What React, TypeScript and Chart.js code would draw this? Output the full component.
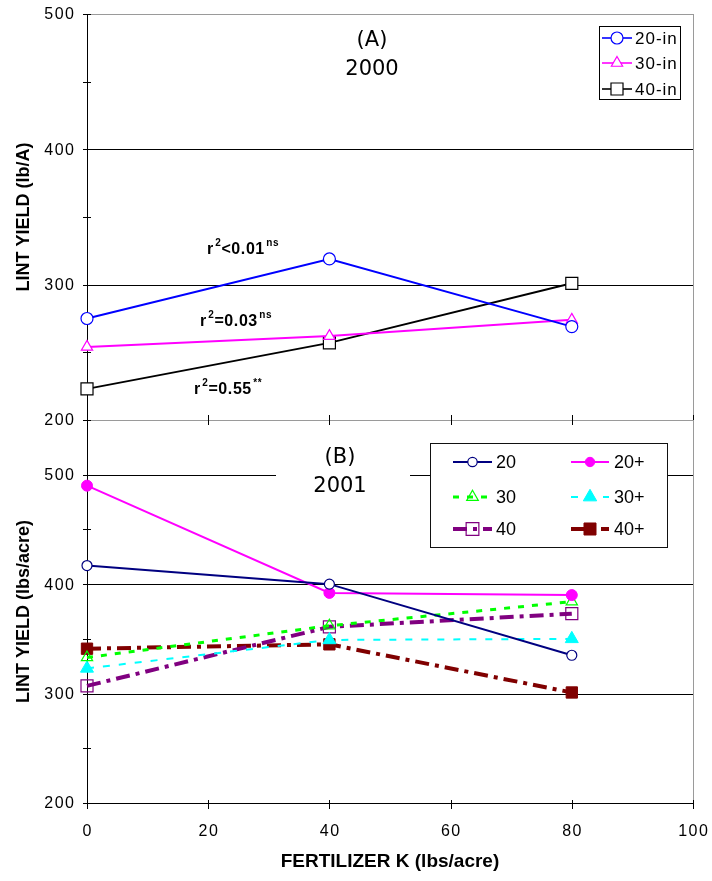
import React, { useEffect, useRef } from 'react';
import { Chart, registerables } from 'chart.js';

Chart.register(...registerables);

// ---------------- data ----------------
const K_RATES = [0, 40, 80];
const X_TICKS = [0, 20, 40, 60, 80, 100];
const A_Y_LABELS = [500, 400, 300, 200];
const B_Y_LABELS = [500, 400, 300, 200];

const A_NAMES = ['20-in', '30-in', '40-in'];
const A_20IN = [275, 319, 269];
const A_30IN = [254, 262, 274];
const A_40IN = [223, 257, 301];

const B_NAMES = ['20', '20+', '30', '30+', '40', '40+'];
const B_20 = [417, 400, 335];
const B_20P = [490, 392, 390];
const B_30 = [333, 362, 384];
const B_30P = [323, 349, 350];
const B_40 = [307, 361, 373];
const B_40P = [341, 345, 301];

const A_R2 = [
  ['r', '2', '<0.01', 'ns'],
  ['r', '2', '=0.03', 'ns'],
  ['r', '2', '=0.55', '**'],
];

// ---------------- styles / layout ----------------
const W = 712;
const H = 881;
const PLOT_LEFT = 87;
const PLOT_RIGHT = 693;
const A_TOP = 14;
const MID = 420;
const B_BOTTOM = 803;
const GREY = '#9a9a9a';
const SANS = '"Liberation Sans", Arial, sans-serif';
const DEJA = '"DejaVu Sans", sans-serif';

const A_STYLES = [
  { color: '#0000FF', width: 2, dash: [], marker: 'circle', r: 6, fill: '#FFFFFF', pw: 1.2 },
  { color: '#FF00FF', width: 2, dash: [], marker: 'triangle', r: 6.5, fill: '#FFFFFF', pw: 1.2 },
  { color: '#000000', width: 2, dash: [], marker: 'rect', r: 8.5, fill: '#FFFFFF', pw: 1.2 },
];
const B_STYLES = [
  { color: '#000080', width: 2, dash: [], marker: 'circle', r: 5, fill: '#FFFFFF', pw: 1.2 },
  { color: '#FF00FF', width: 2, dash: [], marker: 'circle', r: 5.5, fill: '#FF00FF', pw: 1 },
  { color: '#00FF00', width: 3, dash: [6, 8], marker: 'triangle', r: 6.5, fill: 'rgba(0,0,0,0)', pw: 1.2 },
  { color: '#00FFFF', width: 2, dash: [7, 9], marker: 'triangle', r: 7.5, fill: '#00FFFF', pw: 1 },
  { color: '#800080', width: 4, dash: [14, 6, 4, 6], marker: 'rect', r: 8.5, fill: 'rgba(0,0,0,0)', pw: 1.2 },
  { color: '#800000', width: 4, dash: [14, 6, 4, 6], marker: 'rect', r: 8, fill: '#800000', pw: 1 },
];

// ---------------- drawing helpers ----------------
const al = (v: number) => Math.round(v) + 0.5;

function hline(ctx: any, x1: number, x2: number, y: number, color: string, w = 1) {
  ctx.save();
  ctx.strokeStyle = color;
  ctx.lineWidth = w;
  ctx.setLineDash([]);
  ctx.beginPath();
  ctx.moveTo(x1, al(y));
  ctx.lineTo(x2, al(y));
  ctx.stroke();
  ctx.restore();
}
function vline(ctx: any, x: number, y1: number, y2: number, color: string, w = 1) {
  ctx.save();
  ctx.strokeStyle = color;
  ctx.lineWidth = w;
  ctx.setLineDash([]);
  ctx.beginPath();
  ctx.moveTo(al(x), y1);
  ctx.lineTo(al(x), y2);
  ctx.stroke();
  ctx.restore();
}
function drawMarker(ctx: any, style: string, x: number, y: number, r: number, fill: string, stroke: string, lw: number) {
  ctx.save();
  ctx.setLineDash([]);
  ctx.beginPath();
  if (style === 'circle') ctx.arc(x, y, r, 0, Math.PI * 2);
  else if (style === 'triangle') {
    ctx.moveTo(x, y - r);
    ctx.lineTo(x + 0.866 * r, y + 0.5 * r);
    ctx.lineTo(x - 0.866 * r, y + 0.5 * r);
    ctx.closePath();
  } else {
    const s = r / Math.SQRT2;
    ctx.rect(x - s, y - s, 2 * s, 2 * s);
  }
  if (fill) {
    ctx.fillStyle = fill;
    ctx.fill();
  }
  ctx.strokeStyle = stroke;
  ctx.lineWidth = lw;
  ctx.stroke();
  ctx.restore();
}
function text(ctx: any, s: string, x: number, y: number, font: string, align = 'left', baseline = 'middle', spacing = '0px', color = '#000') {
  ctx.save();
  ctx.font = font;
  ctx.letterSpacing = spacing;
  ctx.textAlign = align;
  ctx.textBaseline = baseline;
  ctx.fillStyle = color;
  ctx.fillText(s, x, y);
  ctx.restore();
}
function vtext(ctx: any, s: string, x: number, y: number, font: string) {
  ctx.save();
  ctx.translate(x, y);
  ctx.rotate(-Math.PI / 2);
  ctx.font = font;
  ctx.textAlign = 'center';
  ctx.textBaseline = 'middle';
  ctx.fillStyle = '#000';
  ctx.fillText(s, 0, 0);
  ctx.restore();
}
function supText(ctx: any, x: number, base: number, parts: string[]) {
  ctx.save();
  ctx.fillStyle = '#000';
  ctx.textBaseline = 'alphabetic';
  ctx.textAlign = 'left';
  let cx = x;
  parts.forEach((p, i) => {
    const sup = i % 2 === 1;
    ctx.font = sup ? `bold 10px ${SANS}` : `bold 16px ${SANS}`;
    ctx.letterSpacing = sup ? '0.5px' : '0.6px';
    if (sup) cx += 1.5;
    ctx.fillText(p, cx, sup ? base - 8.5 : base);
    cx += ctx.measureText(p).width;
  });
  ctx.restore();
}
function legendEntry(ctx: any, x1: number, x2: number, y: number, st: any, mr: number) {
  ctx.save();
  ctx.strokeStyle = st.color;
  ctx.lineWidth = st.width;
  ctx.setLineDash(st.dash);
  ctx.beginPath();
  ctx.moveTo(x1, y);
  ctx.lineTo(x2, y);
  ctx.stroke();
  ctx.restore();
  drawMarker(ctx, st.marker, (x1 + x2) / 2, y, mr, st.fill, st.color, st.pw);
}

// ---------------- plugins ----------------
const panelAPlugin = {
  id: 'panelA',
  beforeDatasetsDraw(chart: any) {
    const ctx = chart.ctx;
    const { x, y } = chart.scales;
    const left = x.getPixelForValue(0);
    const right = x.getPixelForValue(100);
    const top = y.getPixelForValue(500);
    const bottom = y.getPixelForValue(200);
    [400, 300].forEach((v) => hline(ctx, left, right, y.getPixelForValue(v), '#000'));
    hline(ctx, left, right, top, GREY);
    hline(ctx, left, right, bottom, GREY);
    vline(ctx, right, top, bottom, GREY);
    vline(ctx, left, top, bottom + 2, '#000');
    y.ticks.forEach((t: any) => hline(ctx, left - 4, left + 4, y.getPixelForValue(t.value), '#000'));
    X_TICKS.forEach((v) => vline(ctx, x.getPixelForValue(v), bottom - 5, bottom + 5, '#000'));
  },
  afterDatasetsDraw(chart: any) {
    const ctx = chart.ctx;
    const { x, y } = chart.scales;
    const left = x.getPixelForValue(0);
    A_Y_LABELS.forEach((v) =>
      text(ctx, String(v), left - 11.5, y.getPixelForValue(v) + 1, `16px ${SANS}`, 'right', 'middle', '1.5px')
    );
    vtext(ctx, 'LINT YIELD (lb/A)', 24, (y.getPixelForValue(500) + y.getPixelForValue(200)) / 2, `bold 18px ${SANS}`);
    text(ctx, '(A)', 372, 41, `21px ${DEJA}`, 'center');
    text(ctx, '2000', 372, 70, `21px ${DEJA}`, 'center');
    // r² annotations
    supText(ctx, 207, 254, A_R2[0]);
    supText(ctx, 200, 326, A_R2[1]);
    supText(ctx, 194, 394, A_R2[2]);
    // legend
    ctx.save();
    ctx.fillStyle = '#fff';
    ctx.fillRect(599, 26, 81, 73);
    ctx.strokeStyle = '#000';
    ctx.lineWidth = 1;
    ctx.strokeRect(599.5, 26.5, 81, 73);
    ctx.restore();
    const rows = [38, 63, 89];
    A_NAMES.forEach((n, i) => {
      legendEntry(ctx, 602, 632, rows[i], { ...A_STYLES[i], width: 1.6 }, A_STYLES[i].r);
      text(ctx, n, 635, rows[i] + 1, `17px ${SANS}`, 'left', 'middle', '1px');
    });
  },
};

const panelBPlugin = {
  id: 'panelB',
  beforeDatasetsDraw(chart: any) {
    const ctx = chart.ctx;
    const { x, y } = chart.scales;
    const left = x.getPixelForValue(0);
    const right = x.getPixelForValue(100);
    const top = y.getPixelForValue(550);
    const bottom = y.getPixelForValue(200);
    [500, 400, 300].forEach((v) => hline(ctx, left, right, y.getPixelForValue(v), '#000'));
    vline(ctx, right, top, bottom, GREY);
    vline(ctx, left, top, bottom + 5, '#000');
    hline(ctx, left, right, bottom, '#000');
    y.ticks.forEach((t: any) => hline(ctx, left - 4, left + 4, y.getPixelForValue(t.value), '#000'));
    X_TICKS.forEach((v) => vline(ctx, x.getPixelForValue(v), bottom - 3, bottom + 6, '#000'));
    // title box
    ctx.save();
    ctx.fillStyle = '#fff';
    ctx.fillRect(276, 444, 134, 56);
    ctx.restore();
    text(ctx, '(B)', 340, 458, `21px ${DEJA}`, 'center');
    text(ctx, '2001', 340, 487, `21px ${DEJA}`, 'center');
  },
  afterDatasetsDraw(chart: any) {
    const ctx = chart.ctx;
    const { x, y } = chart.scales;
    const left = x.getPixelForValue(0);
    B_Y_LABELS.forEach((v) =>
      text(ctx, String(v), left - 11.5, y.getPixelForValue(v) + 1, `16px ${SANS}`, 'right', 'middle', '1.5px')
    );
    X_TICKS.forEach((v) =>
      text(ctx, String(v), x.getPixelForValue(v) + 0.75, 832, `16px ${SANS}`, 'center', 'middle', '1.5px')
    );
    vtext(ctx, 'LINT YIELD (lbs/acre)', 24, (y.getPixelForValue(550) + y.getPixelForValue(200)) / 2, `bold 18px ${SANS}`);
    text(ctx, 'FERTILIZER K (lbs/acre)', (x.getPixelForValue(0) + x.getPixelForValue(100)) / 2, 862, `bold 19px ${SANS}`, 'center');
    // legend
    ctx.save();
    ctx.fillStyle = '#fff';
    ctx.fillRect(430, 443, 237, 104);
    ctx.strokeStyle = '#111';
    ctx.lineWidth = 1;
    ctx.strokeRect(430.5, 443.5, 237, 104);
    ctx.restore();
    const rows = [462, 497, 529];
    const legR = [4.7, 4.7, 6.7, 7.7, 9, 8.5];
    B_NAMES.forEach((n, i) => {
      const col = i % 2;
      const row = Math.floor(i / 2);
      const x1 = col === 0 ? 453 : 571;
      const x2 = col === 0 ? 492 : 609;
      legendEntry(ctx, x1, x2, rows[row], B_STYLES[i], legR[i]);
      text(ctx, n, col === 0 ? 496 : 614, rows[row] + 1, `18px ${SANS}`, 'left', 'middle');
    });
  },
};

// ---------------- chart configs ----------------
function mkDataset(label: string, arr: number[], st: any) {
  return {
    label,
    data: K_RATES.map((k, i) => ({ x: k, y: arr[i] })),
    borderColor: st.color,
    borderWidth: st.width,
    borderDash: st.dash,
    pointStyle: st.marker,
    pointRadius: st.r,
    pointHoverRadius: st.r,
    pointBackgroundColor: st.fill,
    pointBorderColor: st.color,
    pointBorderWidth: st.pw,
    fill: false,
    tension: 0,
    clip: false,
  };
}

function baseOptions(padding: any, yMin: number, yMax: number) {
  return {
    responsive: false,
    maintainAspectRatio: false,
    animation: false,
    devicePixelRatio: 1,
    events: [],
    layout: { padding },
    plugins: { legend: { display: false }, tooltip: { enabled: false }, title: { display: false } },
    scales: {
      x: { type: 'linear', min: 0, max: 100, display: false },
      y: {
        type: 'linear',
        min: yMin,
        max: yMax,
        display: true,
        ticks: { display: false, stepSize: 50 },
        grid: { display: false },
        border: { display: false },
        afterFit: (s: any) => {
          s.width = PLOT_LEFT;
        },
      },
    },
  };
}

export default function App() {
  const refA = useRef<HTMLCanvasElement>(null);
  const refB = useRef<HTMLCanvasElement>(null);

  useEffect(() => {
    const a = new Chart(refA.current as any, {
      type: 'line',
      data: {
        datasets: [
          mkDataset(A_NAMES[0], A_20IN, A_STYLES[0]),
          mkDataset(A_NAMES[1], A_30IN, A_STYLES[1]),
          mkDataset(A_NAMES[2], A_40IN, A_STYLES[2]),
        ],
      },
      options: baseOptions({ left: 0, top: A_TOP, right: W - PLOT_RIGHT, bottom: H - MID }, 200, 500) as any,
      plugins: [panelAPlugin],
    } as any);
    const b = new Chart(refB.current as any, {
      type: 'line',
      data: {
        datasets: [
          mkDataset(B_NAMES[0], B_20, B_STYLES[0]),
          mkDataset(B_NAMES[1], B_20P, B_STYLES[1]),
          mkDataset(B_NAMES[2], B_30, B_STYLES[2]),
          mkDataset(B_NAMES[3], B_30P, B_STYLES[3]),
          mkDataset(B_NAMES[4], B_40, B_STYLES[4]),
          mkDataset(B_NAMES[5], B_40P, B_STYLES[5]),
        ],
      },
      options: baseOptions({ left: 0, top: MID, right: W - PLOT_RIGHT, bottom: H - B_BOTTOM }, 200, 550) as any,
      plugins: [panelBPlugin],
    } as any);
    return () => {
      a.destroy();
      b.destroy();
    };
  }, []);

  const cs: any = { position: 'absolute', left: 0, top: 0, display: 'block' };
  return (
    <div style={{ position: 'absolute', left: 0, top: 0, width: W, height: H, background: '#fff' }}>
      <canvas ref={refA} width={W} height={H} style={cs} />
      <canvas ref={refB} width={W} height={H} style={cs} />
    </div>
  );
}
